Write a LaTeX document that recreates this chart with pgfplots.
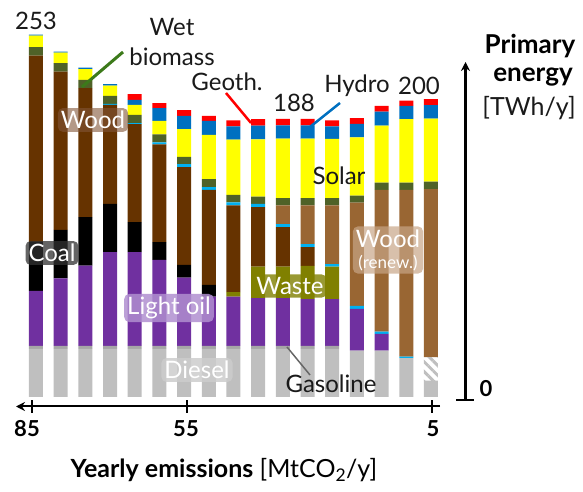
\documentclass[border=0pt]{standalone}
\usepackage{pgfplots}
\pgfplotsset{compat=1.18}
\usepackage{pgfplotstable}
\usepackage{fontspec}
\setmainfont{Lato}
\usetikzlibrary{patterns.meta,arrows.meta}
\definecolor{cgrey}{HTML}{BFBFBF}
\definecolor{cdgrey}{HTML}{A6A6A6}
\definecolor{cpurple}{HTML}{7030A0}
\definecolor{colive}{HTML}{808000}
\definecolor{cblack}{HTML}{000000}
\definecolor{cbrown}{HTML}{663300}
\definecolor{ccyan}{HTML}{00B0F0}
\definecolor{clbrown}{HTML}{996633}
\definecolor{cgreen}{HTML}{4F6228}
\definecolor{cyellow}{HTML}{FFFF00}
\definecolor{chydro}{HTML}{0070C0}
\definecolor{cred}{HTML}{FF0000}
\definecolor{ctext}{HTML}{1A1A1A}
\definecolor{lgreen}{HTML}{3C7A1A}
\pgfplotstableread{
x  grey dgrey hatch purple olive black brown cyan lbrown green yellow hydro red
85 33.6 2.1 0    38.5 0    34.3 130.1 0   0     6.1 7.9  0.7 0
80 33.6 2.1 0    47.3 0    33.8 110.7 0   0     5.9 7.4  0.7 0
75 33.6 2.1 0    56.2 0    33.8 90.2  0   0     5.8 7.5  1.1 0
70 33.6 2.1 0    65.5 0    33.8 69.2  0.7 0     5.6 7.2  1.0 0
65 33.6 2.1 0    65.5 0    21.0 68.5  0.7 0     5.8 7.0  3.5 4.0
60 33.6 2.1 0    60.1 0    12.4 68.5  1.4 0     5.6 9.3  8.9 3.5
55 33.6 2.1 0    47.8 0    8.9  68.3  2.1 0     5.1 19.4 9.3 4.0
50 33.6 2.1 0    34.5 0    8.2  66.4  1.9 0     5.6 31.0 9.8 3.5
45 33.6 2.1 0    34.5 3.1  0    60.6  2.1 0     5.4 38.5 9.3 4.2
40 33.6 2.1 0    33.4 22.1 0    41.5  2.3 0     5.1 40.1 9.5 4.5
35 33.6 2.1 0    33.4 22.1 0    27.6  2.1 13.0  5.2 41.5 9.3 4.5
30 33.6 2.1 0    32.7 23.3 0    13.1  2.1 27.0  5.2 41.5 9.3 4.5
25 33.6 2.1 0    32.7 22.8 0    0     1.7 41.0  5.2 41.3 8.8 4.2
20 32.4 0   0    29.2 0    0    0     2.1 72.2  4.9 40.8 9.3 4.0
15 32.4 0   0    11.7 0    0    0     1.6 99.1  5.1 39.9 9.8 4.0
10 27.1 0   0    0    0    0    0     1.1 116.6 5.1 44.3 9.3 3.7
5  11.4 0   16.4 0    0    0    0     0   117.5 5.3 44.1 9.4 4.2
}\data
\begin{document}
\begin{tikzpicture}
\useasboundingbox (0pt,0pt) rectangle (583pt,492pt);
\begin{axis}[at={(18pt,87pt)}, anchor=south west, scale only axis,
  width=448pt, height=370pt,
  xmin=-2.09, xmax=88.64, ymin=-5.6, ymax=253.1, x dir=reverse,
  hide axis, ybar stacked, bar width=2.835, clip=false]
\addplot[fill=cgrey, draw=none] table[x=x,y=grey]{\data};
\addplot[fill=cdgrey, draw=none] table[x=x,y=dgrey]{\data};
\addplot[draw=none, pattern={Lines[angle=-45,distance=7pt,line width=3pt]}, pattern color=cgrey] table[x=x,y=hatch]{\data};
\addplot[fill=cpurple, draw=none] table[x=x,y=purple]{\data};
\addplot[fill=colive, draw=none] table[x=x,y=olive]{\data};
\addplot[fill=cblack, draw=none] table[x=x,y=black]{\data};
\addplot[fill=cbrown, draw=none] table[x=x,y=brown]{\data};
\addplot[fill=ccyan, draw=none] table[x=x,y=cyan]{\data};
\addplot[fill=clbrown, draw=none] table[x=x,y=lbrown]{\data};
\addplot[fill=cgreen, draw=none] table[x=x,y=green]{\data};
\addplot[fill=cyellow, draw=none] table[x=x,y=yellow]{\data};
\addplot[fill=chydro, draw=none] table[x=x,y=hydro]{\data};
\addplot[fill=cred, draw=none] table[x=x,y=red]{\data};
\end{axis}
% axes
\draw[line width=2pt, -{Stealth[length=9pt,width=9pt]}] (440pt,85.5pt) -- (16pt,85.5pt);
\foreach \xx in {32,187,432} \draw[line width=1.8pt] (\xx pt,79pt) -- (\xx pt,92pt);
\node[font=\fontsize{22}{24}\selectfont] at (27pt,63pt) {$\mathbf{85}$};
\node[font=\fontsize{22}{24}\selectfont] at (186pt,63pt) {$\mathbf{55}$};
\node[font=\fontsize{22}{24}\selectfont] at (433pt,63pt) {$\mathbf{5}$};
\draw[line width=2.2pt, -{Stealth[length=9pt,width=9pt]}] (465.5pt,92pt) -- (465.5pt,430pt);
\draw[line width=2pt] (456pt,92pt) -- (474pt,92pt);
\node[font=\fontsize{22}{24}\selectfont\bfseries, anchor=base] at (486pt,95pt) {0};
% axis titles
\node[font=\fontsize{25}{27}\selectfont, text=black] at (224pt,22pt) {\textbf{Yearly emissions} [MtCO\textsubscript{2}/y]};
\node[font=\fontsize{26}{28}\selectfont\bfseries, text=black] at (530pt,446pt) {Primary};
\node[font=\fontsize{26}{28}\selectfont\bfseries, text=black] at (533pt,415pt) {energy};
\node[font=\fontsize{25}{27}\selectfont, text=ctext] at (529pt,384pt) {[TWh/y]};
% annotations
\begin{scope}[every node/.style={font=\fontsize{24}{26}\selectfont, text=ctext}]
\node at (36pt,471pt) {253};
\node at (172pt,465pt) {Wet};
\node at (172pt,435pt) {biomass};
\node at (227pt,410pt) {Geoth.};
\node at (294pt,389pt) {188};
\node at (357pt,406pt) {Hydro};
\node at (419pt,406pt) {200};
\node at (339pt,316pt) {Solar};
\node at (331pt,108pt) {Gasoline};
\end{scope}
\draw[lgreen, line width=3pt] (82pt,405pt) -- (123pt,440pt);
\draw[cred, line width=2.5pt] (226pt,399pt) -- (251pt,369pt);
\draw[chydro, line width=2.5pt] (340pt,389pt) -- (310pt,365pt);
\draw[gray!80!black, line width=1.5pt] (287pt,145pt) -- (310pt,117pt);
% glowing labels
\begin{scope}[every node/.style={font=\fontsize{24}{26}\selectfont, text=white, rounded corners=5pt, inner sep=3pt, fill opacity=0.6, text opacity=1}]
\node[fill={rgb,255:red,130;green,85;blue,55}] at (93pt,372pt) {Wood};
\node[fill={rgb,255:red,50;green,50;blue,50}, fill opacity=0.75] at (52pt,239pt) {Coal};
\node[fill={rgb,255:red,176;green,143;blue,208}, fill opacity=0.85] at (169pt,184pt) {Light oil};
\node[fill={rgb,255:red,205;green,205;blue,205}, fill opacity=0.85] at (197pt,122pt) {Diesel};
\node[fill=colive, fill opacity=0.8] at (290pt,206pt) {Waste};
\node[fill={rgb,255:red,200;green,165;blue,135}, fill opacity=0.7, align=center, inner sep=3pt] at (388pt,242pt) {Wood\\[-5pt]{\fontsize{17}{18}\selectfont (renew.)}};
\end{scope}
\end{tikzpicture}
\end{document}
